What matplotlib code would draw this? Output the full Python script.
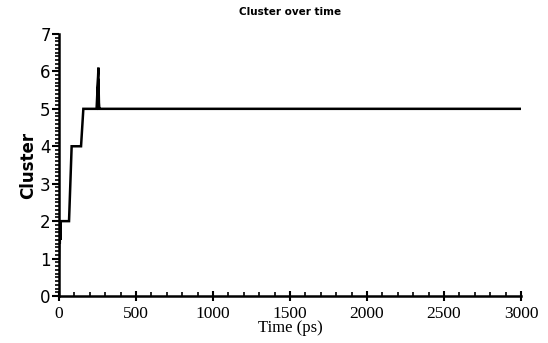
import matplotlib
matplotlib.use("Agg")
import matplotlib.pyplot as plt
from matplotlib.ticker import MultipleLocator

time_ps = [0, 3, 5, 7, 9, 11, 14, 65, 82, 143, 158, 244, 252, 256, 250, 256, 260, 254, 258, 266, 3000]
cluster = [1, 2, 1.4, 2, 1.5, 2, 2, 2, 4, 4, 5, 5, 5.7, 6.1, 5, 5.8, 5, 5.5, 5, 5, 5]

x_ticks = [0, 500, 1000, 1500, 2000, 2500, 3000]
y_ticks = [0, 1, 2, 3, 4, 5, 6, 7]

fig = plt.figure(figsize=(5.48, 3.43), dpi=100)
ax = fig.add_axes([0.1077, 0.137, 0.843, 0.764])

ax.plot(time_ps, cluster, color="black", lw=1.8, solid_joinstyle="miter")

ax.set_xlim(0, 3000)
ax.set_ylim(0, 7)
ax.set_xticks(x_ticks)
ax.set_yticks(y_ticks)
ax.xaxis.set_minor_locator(MultipleLocator(100))
ax.yaxis.set_minor_locator(MultipleLocator(0.1))

for s in ["top", "right"]:
    ax.spines[s].set_visible(False)
for s in ["left", "bottom"]:
    ax.spines[s].set_linewidth(1.8)

ax.tick_params(axis="x", which="major", direction="inout", length=7, width=1.5)
ax.tick_params(axis="x", which="minor", direction="in", length=3, width=1.2)
ax.tick_params(axis="y", which="major", direction="out", length=5, width=1.5, pad=1)
ax.tick_params(axis="y", which="minor", direction="out", length=3, width=1.2)

for lab in ax.get_xticklabels():
    lab.set_fontfamily("Liberation Serif")
    lab.set_fontsize(12.5)
for lab in ax.get_yticklabels():
    lab.set_fontfamily("DejaVu Sans")
    lab.set_fontsize(12)

ax.set_xlabel("Time (ps)", fontfamily="Liberation Serif", fontsize=12, labelpad=-1)
ax.set_ylabel("Cluster", fontfamily="DejaVu Sans", fontsize=12, fontweight="bold", labelpad=2)
ax.set_title("Cluster over time", fontfamily="DejaVu Sans", fontsize=7.5, fontweight="bold", pad=14)

fig.savefig("out.png", dpi=100)
